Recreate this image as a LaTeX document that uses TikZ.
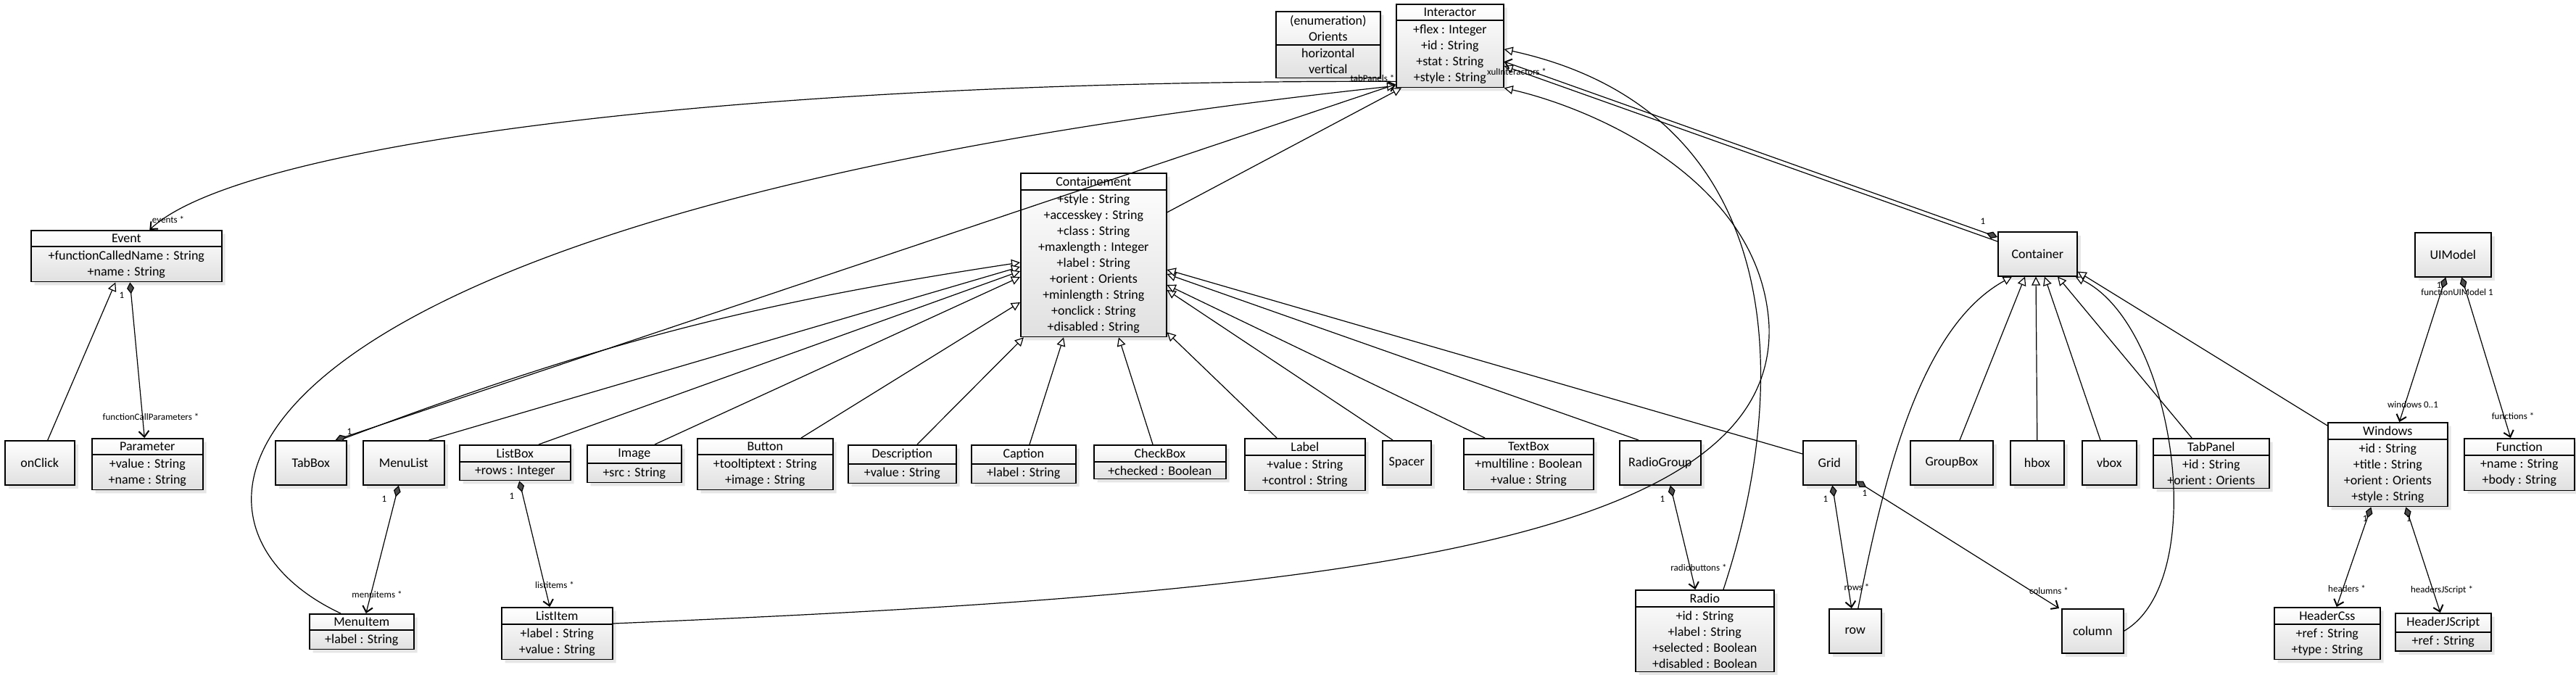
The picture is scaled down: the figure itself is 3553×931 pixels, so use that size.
\documentclass[tikz,border=0pt]{standalone}
\usepackage{fontspec}
\setmainfont{Carlito}
\usetikzlibrary{shapes.multipart,arrows.meta,shadows}

\begin{document}
\begin{tikzpicture}[x=0.5pt, y=-0.5pt,
    classbox/.style={rectangle split, rectangle split parts=2, draw, line width=0.8pt,
      top color=white, bottom color=black!12, drop shadow={opacity=0.2},
      align=center, font=\fontsize{9}{11}\selectfont, inner xsep=3pt, inner ysep=2.3pt,
      minimum width=#1*0.5pt, anchor=north west},
    plainbox/.style={rectangle, draw, line width=0.8pt,
      top color=white, bottom color=black!12, drop shadow={opacity=0.2},
      font=\fontsize{9}{11}\selectfont, minimum height=30.5pt,
      minimum width=#1*0.5pt, anchor=north west},
    rolelabel/.style={font=\fontsize{6.5}{7}\selectfont, inner sep=0pt},
    link/.style={line width=0.6pt, black},
    generalization/.style={link, -{Triangle[open, length=6pt, width=6pt, fill=white]}},
    navigable/.style={link, -{Straight Barb[length=4pt, width=7pt, line width=1pt]}},
    composition/.style={navigable, {Diamond[length=8pt, width=5pt, fill=black!70]}-{Straight Barb[length=4pt, width=7pt, line width=1pt]}}]

    \useasboundingbox (0,0) rectangle (3553,931);

    % top row
    \node [classbox=144] (orients) at (1759,15) {(enumeration)\\Orients \nodepart{second} horizontal\\vertical};
    \node [classbox=148] (int) at (1925,5) {Interactor \nodepart{second} +flex : Integer\\+id : String\\+stat : String\\+style : String};
    \node [classbox=263] (ev) at (42,317) {Event \nodepart{second} +functionCalledName : String\\+name : String};
    \node [classbox=201] (cntm) at (1407,238) {Containement \nodepart{second} +style : String\\+accesskey : String\\+class : String\\+maxlength : Integer\\+label : String\\+orient : Orients\\+minlength : String\\+onclick : String\\+disabled : String};
    \node [plainbox=109] (cont) at (2755,319) {Container};
    \node [plainbox=105] (uimodel) at (3330,320) {UIModel};

    % middle row
    \node [plainbox=96] (onclick) at (6,607) {onClick};
    \node [classbox=153] (param) at (126,604) {Parameter \nodepart{second} +value : String\\+name : String};
    \node [plainbox=98] (tabbox) at (379,607) {TabBox};
    \node [plainbox=112] (menulist) at (500,607) {MenuList};
    \node [classbox=153] (listbox) at (633,613) {ListBox \nodepart{second} +rows : Integer};
    \node [classbox=130] (image) at (809,613) {Image \nodepart{second} +src : String};
    \node [classbox=187] (button) at (961,604) {Button \nodepart{second} +tooltiptext : String\\+image : String};
    \node [classbox=149] (descr) at (1169,613) {Description \nodepart{second} +value : String};
    \node [classbox=144] (caption) at (1339,613) {Caption \nodepart{second} +label : String};
    \node [classbox=182] (checkbox) at (1508,613) {CheckBox \nodepart{second} +checked : Boolean};
    \node [classbox=166] (label) at (1716,604) {Label \nodepart{second} +value : String\\+control : String};
    \node [plainbox=67] (spacer) at (1906,607) {Spacer};
    \node [classbox=179] (textbox) at (2018,604) {TextBox \nodepart{second} +multiline : Boolean\\+value : String};
    \node [plainbox=112] (radiogroup) at (2233,607) {RadioGroup};
    \node [plainbox=73] (grid) at (2486,607) {Grid};
    \node [plainbox=114] (groupbox) at (2634,607) {GroupBox};
    \node [plainbox=74] (hbox) at (2772,607) {hbox};
    \node [plainbox=75] (vbox) at (2871,607) {vbox};
    \node [classbox=160] (tabpanel) at (2969,604) {TabPanel \nodepart{second} +id : String\\+orient : Orients};
    \node [classbox=165] (windows) at (3210,582) {Windows \nodepart{second} +id : String\\+title : String\\+orient : Orients\\+style : String};
    \node [classbox=152] (function) at (3398,604) {Function \nodepart{second} +name : String\\+body : String};

    % bottom row
    \node [classbox=144] (menuitem) at (426,846) {MenuItem \nodepart{second} +label : String};
    \node [classbox=153] (listitem) at (691,837) {ListItem \nodepart{second} +label : String\\+value : String};
    \node [classbox=191] (radio) at (2255,813) {Radio \nodepart{second} +id : String\\+label : String\\+selected : Boolean\\+disabled : Boolean};
    \node [plainbox=72] (row) at (2522,839) {row};
    \node [plainbox=85] (column) at (2843,839) {column};
    \node [classbox=146] (headercss) at (3136,837) {HeaderCss \nodepart{second} +ref : String\\+type : String};
    \node [classbox=132] (headerjs) at (3303,845) {HeaderJScript \nodepart{second} +ref : String};

    % inheritance
    \draw [generalization] ([shift={(11,0)}]onclick.north) -- ([shift={(-15,0)}]ev.south);
    \draw [generalization] ([shift={(-10,0)}]tabbox.north east) to[bend left=6] ([shift={(0,124)}]cntm.north west);
    \draw [generalization] ([shift={(-22,0)}]menulist.north east) -- ([shift={(0,130)}]cntm.north west);
    \draw [generalization] ([shift={(110,0)}]listbox.north west) -- ([shift={(0,136)}]cntm.north west);
    \draw [generalization] ([shift={(94,0)}]image.north west) -- ([shift={(0,144)}]cntm.north west);
    \draw [generalization] ([shift={(144,0)}]button.north west) -- ([shift={(0,179)}]cntm.north west);
    \draw [generalization] ([shift={(96,0)}]descr.north west) -- ([shift={(5,0)}]cntm.south west);
    \draw [generalization] ([shift={(81,0)}]caption.north west) -- ([shift={(60,0)}]cntm.south west);
    \draw [generalization] ([shift={(82,0)}]checkbox.north west) -- ([shift={(136,0)}]cntm.south west);
    \draw [generalization] ([shift={(45,0)}]label.north west) -- ([shift={(0,-7)}]cntm.south east);
    \draw [generalization] ([shift={(15,0)}]spacer.north west) -- ([shift={(0,162)}]cntm.north east);
    \draw [generalization] ([shift={(30,0)}]textbox.north west) -- ([shift={(0,155)}]cntm.north east);
    \draw [generalization] ([shift={(27,0)}]radiogroup.north west) -- ([shift={(0,140)}]cntm.north east);
    \draw [generalization] ([shift={(0,19)}]grid.north west) -- ([shift={(0,134)}]cntm.north east);
    \draw [generalization] ([shift={(0,55)}]cntm.north east) -- ([shift={(8,0)}]int.south west);
    \draw [generalization] ([shift={(44,0)}]menuitem.north west) .. controls (200,720) and (250,300) .. ([shift={(0,-3)}]int.south west);
    \draw [generalization] ([shift={(0,23)}]listitem.north east) .. controls (1800,820) and (2450,760) .. (2440,450)
                                                              .. controls (2430,250) and (2200,150) .. (int.south east);
    \draw [generalization] ([shift={(122,0)}]radio.north west) .. controls (2480,500) and (2450,150) .. ([shift={(0,63)}]int.north east);
    \draw [generalization] ([shift={(4,0)}]row.north) .. controls (2600,650) and (2650,450) .. ([shift={(20,0)}]cont.south west);
    \draw [generalization] ([shift={(69,0)}]groupbox.north west) -- ([shift={(38,0)}]cont.south west);
    \draw [generalization] (hbox.north) -- ([shift={(53,0)}]cont.south west);
    \draw [generalization] ([shift={(26,0)}]vbox.north west) -- ([shift={(65,0)}]cont.south west);
    \draw [generalization] ([shift={(54,0)}]tabpanel.north west) -- ([shift={(83,0)}]cont.south west);
    \draw [generalization] (column.east) .. controls (3050,800) and (3000,450) .. ([shift={(-3,0)}]cont.south east);
    \draw [generalization] ([shift={(0,5)}]windows.north west) -- ([shift={(0,-7)}]cont.south east);
    \draw [generalization] ([shift={(0,14)}]cont.north west) -- ([shift={(0,86)}]int.north east);

    % associations
    \draw [navigable] ([shift={(0,-9)}]int.south west) .. controls (1000,110) and (330,200) .. ([shift={(32,0)}]ev.north);
    \draw [composition] ([shift={(5,0)}]ev.south) -- ([shift={(-4,0)}]param.north);
    \draw [composition] ([shift={(-16,0)}]tabbox.north east) -- ([shift={(0,-5)}]int.south west);
    \draw [composition] ([shift={(-7,0)}]menulist.south) -- ([shift={(6,0)}]menuitem.north);
    \draw [composition] ([shift={(6,0)}]listbox.south) -- ([shift={(-10,0)}]listitem.north);
    \draw [composition] ([shift={(14,0)}]radiogroup.south) -- ([shift={(-13,0)}]radio.north);
    \draw [composition] ([shift={(4,0)}]grid.south) -- ([shift={(-5,0)}]row.north);
    \draw [composition] ([shift={(0,-6)}]grid.south east) -- ([shift={(-3,0)}]column.north west);
    \draw [composition] ([shift={(0,8)}]cont.north west) -- ([shift={(0,80)}]int.north east);
    \draw [composition] ([shift={(-10,0)}]uimodel.south) -- ([shift={(16,0)}]windows.north);
    \draw [composition] ([shift={(12,0)}]uimodel.south) -- ([shift={(-12,0)}]function.north);
    \draw [composition] ([shift={(-23,0)}]windows.south) -- ([shift={(13,0)}]headercss.north);
    \draw [composition] ([shift={(25,0)}]windows.south) -- ([shift={(-4,0)}]headerjs.north);

    % role names
    \node [rolelabel] (evrole) at (232,303) {events *};
    \node [rolelabel] (evone) at (168,407) {1};
    \node [rolelabel] (paramrole) at (208,575) {functionCallParameters *};
    \node [rolelabel] (tabone) at (482,595) {1};
    \node [rolelabel] (tabrole) at (1893,108) {tabPanels *};
    \node [rolelabel] (menuone) at (530,688) {1};
    \node [rolelabel] (menurole) at (520,820) {menuitems *};
    \node [rolelabel] (listone) at (706,684) {1};
    \node [rolelabel] (listrole) at (765,807) {listitems *};
    \node [rolelabel] (radioone) at (2293,688) {1};
    \node [rolelabel] (radiorole) at (2343,783) {radiobuttons *};
    \node [rolelabel] (rowone) at (2518,688) {1};
    \node [rolelabel] (colone) at (2572,680) {1};
    \node [rolelabel] (rowrole) at (2561,810) {rows *};
    \node [rolelabel] (colrole) at (2826,815) {columns *};
    \node [rolelabel] (contone) at (2735,305) {1};
    \node [rolelabel] (controle) at (2092,99) {xulInteractors *};
    \node [rolelabel] (winone) at (3364,393) {1};
    \node [rolelabel] (funone) at (3389,403) {functionUIModel 1};
    \node [rolelabel] (winrole) at (3328,558) {windows 0..1};
    \node [rolelabel] (funrole) at (3466,574) {functions *};
    \node [rolelabel] (cssone) at (3262,715) {1};
    \node [rolelabel] (jsone) at (3322,715) {1};
    \node [rolelabel] (cssrole) at (3237,812) {headers *};
    \node [rolelabel] (jsrole) at (3368,814) {headersJScript *};
\end{tikzpicture}
\end{document}
